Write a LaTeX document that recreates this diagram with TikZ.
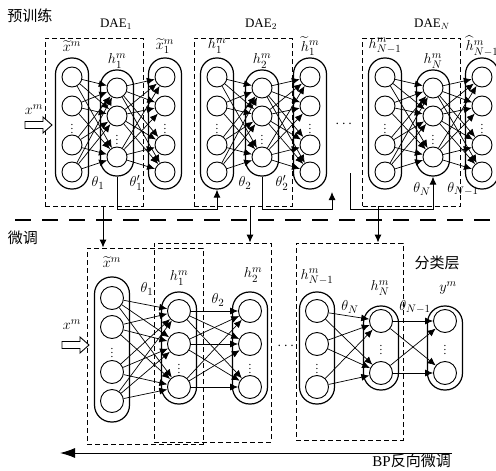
\documentclass[tikz,border=0pt]{standalone}
\usepackage{amsmath,amssymb}
\usepackage{fontspec}
\setmainfont{Liberation Serif}
\newfontfamily\zhfont{Noto Sans CJK SC}
\usepackage{tikz}
\usetikzlibrary{arrows.meta, positioning, calc}

\tikzset{
  every node/.style={font=\fontsize{15}{17}\selectfont},
  neuron/.style={draw, circle, minimum size=20pt, inner sep=0pt, line width=0.9pt},
  bigneuron/.style={neuron, minimum size=23pt},
  pill/.style={draw, rectangle, rounded corners=16pt, minimum width=33pt, inner sep=0pt, line width=1.2pt},
  bigpill/.style={pill, rounded corners=17pt, minimum width=35pt},
  dbox/.style={draw, dash pattern=on 5pt off 3pt, line width=0.9pt, inner sep=0pt},
  link/.style={-{Latex[length=8pt,width=7pt]}, line width=0.7pt},
  feed/.style={-{Latex[length=8pt,width=7pt]}, line width=0.9pt},
  vdot/.style={font=\fontsize{11}{12}\selectfont, inner sep=0pt},
  title/.style={font=\fontsize{13}{15}\selectfont},
  hollow arrow/.pic={
    \draw[line width=0.9pt, fill=white] (-13.5,-3.5) -- (4.5,-3.5) -- (4.5,-8)
      -- (13.5,0) -- (4.5,8) -- (4.5,3.5) -- (-13.5,3.5) -- cycle;
  }
}

\begin{document}
\begin{tikzpicture}[x=1pt, y=-1pt]
  \useasboundingbox (0,0) rectangle (496,471);

  % ---- pre-training ----
  \node at (30,16) {\zhfont 预训练};
  \foreach \k/\xd/\xa/\xb/\xc/\la/\lb/\lc/\ta/\tb/\pa/\pb in {
    1/94/72/117/165/{\widetilde{x}^m}/{h_1^m}/{\widetilde{x}_1^m}/{\theta_1}/{\theta_1'}/{98,183}/{136,183},
    2/243/217/262/310/{h_1^m}/{h_2^m}/{\widetilde{h}_1^m}/{\theta_2}/{\theta_2'}/{245,183}/{282,183},
    N/411.5/385/433/482/{h_{N-1}^m}/{h_N^m}/{\widehat{h}_{N-1}^m}/{\theta_N}/{\theta_{N-1}}/{422,189}/{463,189}}
  {
    \node[dbox, minimum width=98pt, minimum height=168pt] (dae\k) at (\xd,122) {};
    \node[title] at (\xb-1,24) {DAE$_\k$};
    \node[pill, minimum height=131pt] (t\k-ap) at (\xa,123.5) {};
    \node[pill, minimum height=106pt] (t\k-bp) at (\xb,123) {};
    \node[pill, minimum height=131pt] (t\k-cp) at (\xc,123.5) {};
    \foreach \i/\y in {1/77,2/106,3/145,4/172} {
      \node[neuron] (t\k-a\i) at (\xa,\y) {};
      \node[neuron] (t\k-c\i) at (\xc,\y) {};
    }
    \foreach \j/\y in {1/88,2/116,3/157}
      \node[neuron] (t\k-b\j) at (\xb,\y) {};
    \node[vdot] at (\xa,126) {$\vdots$};
    \node[vdot] at (\xb,137) {$\vdots$};
    \node[vdot] at (\xc,126) {$\vdots$};
    \foreach \i in {1,...,4}
      \foreach \j in {1,2,3} {
        \draw[link] (t\k-a\i) -- (t\k-b\j);
        \draw[link] (t\k-b\j) -- (t\k-c\i);
      }
    \node at (\xa,46) {$\la$};
    \node at (\xb,61) {$\lb$};
    \node at (\xc,46) {$\lc$};
    \node at (\pa) {$\ta$};
    \node at (\pb) {$\tb$};
  }
  \node at (345,124) {$\cdots$};

  \pic (xin) at (38.5,125) {hollow arrow};
  \node at (34,110) {$x^m$};

  % hand over the hidden codes
  \coordinate (up2) at (332,192);
  \coordinate (dn3) at (350,173);
  \draw[feed] (t1-bp.south) -- ++(0,33) -| (t2-ap.south);
  \draw[feed] (t2-bp.south) -- ++(0,33) -| (up2);
  \draw[feed] (dn3) -- ++(0,36) -| (tN-bp.south);

  \draw[dash pattern=on 16pt off 11pt, line width=1.1pt] (15,220) -- (496,220);

  % ---- fine-tuning ----
  \node at (23,238) {\zhfont 微调};
  \node[dbox, minimum width=116pt, minimum height=196pt] (fa) at (145,346) {};
  \node[dbox, minimum width=117pt, minimum height=199pt] (fb) at (212.5,342.5) {};
  \node[dbox, minimum width=107pt, minimum height=197pt] (fc) at (349.5,341.5) {};

  \path ([xshift=9pt]dae1.south) coordinate (d1)
        ([xshift=7pt]dae2.south) coordinate (d2)
        ([xshift=-33.5pt]daeN.south) coordinate (d3);
  \draw[feed] (d1) -- (d1 |- fa.north);
  \draw[feed] (d2) -- (d2 |- fb.north);
  \draw[feed] (d3) -- (d3 |- fc.north);

  \node[bigpill, minimum height=145pt] (bxp) at (112,349.5) {};
  \node[bigpill, minimum height=112pt] (b1p) at (179,348) {};
  \node[bigpill, minimum height=112pt] (b2p) at (250,348) {};
  \node[bigpill, minimum height=112pt] (bn1p) at (317,348) {};
  \node[bigpill, minimum height=84pt] (bnp) at (381,348) {};
  \node[bigpill, minimum height=84pt] (byp) at (445,348) {};

  \foreach \i/\y in {1/298,2/327,3/372,4/401}
    \node[bigneuron] (bx\i) at (112,\y) {};
  \foreach \j/\y in {1/311,2/344,3/387} {
    \node[bigneuron] (b1\j) at (179,\y) {};
    \node[bigneuron] (b2\j) at (250,\y) {};
    \node[bigneuron] (bn1\j) at (317,\y) {};
  }
  \foreach \j/\y in {1/321,2/373} {
    \node[bigneuron] (bn\j) at (381,\y) {};
    \node[bigneuron] (by\j) at (445,\y) {};
  }
  \node[vdot] at (112,350) {$\vdots$};
  \node[vdot] at (179,366) {$\vdots$};
  \node[vdot] at (250,366) {$\vdots$};
  \node[vdot] at (317,366) {$\vdots$};
  \node[vdot] at (381,347) {$\vdots$};
  \node[vdot] at (445,347) {$\vdots$};
  \node at (287,346) {$\cdots$};

  \foreach \j in {1,2,3} {
    \foreach \i in {1,...,4}
      \draw[link] (bx\i) -- (b1\j);
    \foreach \i in {1,2,3} {
      \draw[link] (b1\i) -- (b2\j);
    }
  }
  \foreach \j in {1,2} {
    \foreach \i in {1,2,3}
      \draw[link] (bn1\i) -- (bn\j);
    \foreach \i in {1,2}
      \draw[link] (bn\i) -- (by\j);
  }

  \node at (112,262) {$\widetilde{x}^m$};
  \node at (147,289) {$\theta_1$};
  \node at (179,278) {$h_1^m$};
  \node at (218,300) {$\theta_2$};
  \node at (253,275) {$h_2^m$};
  \node at (317,277) {$h_{N-1}^m$};
  \node at (350,307) {$\theta_N$};
  \node at (380,288) {$h_N^m$};
  \node at (415,307) {$\theta_{N-1}$};
  \node at (448,288) {$y^m$};
  \node at (437,263) {\zhfont 分类层};

  \pic (xin2) at (75.5,345) {hollow arrow};
  \node at (72,325) {$x^m$};

  % back-propagation
  \coordinate (bp-r) at (452,453);
  \coordinate (bp-l) at (60,453);
  \draw[-{Latex[length=15pt,width=10pt]}, line width=1pt] (bp-r) -- (bp-l);
  \node[anchor=north east, inner sep=1pt] (bplab) at (bp-r) {BP\zhfont 反向微调};
\end{tikzpicture}
\end{document}
